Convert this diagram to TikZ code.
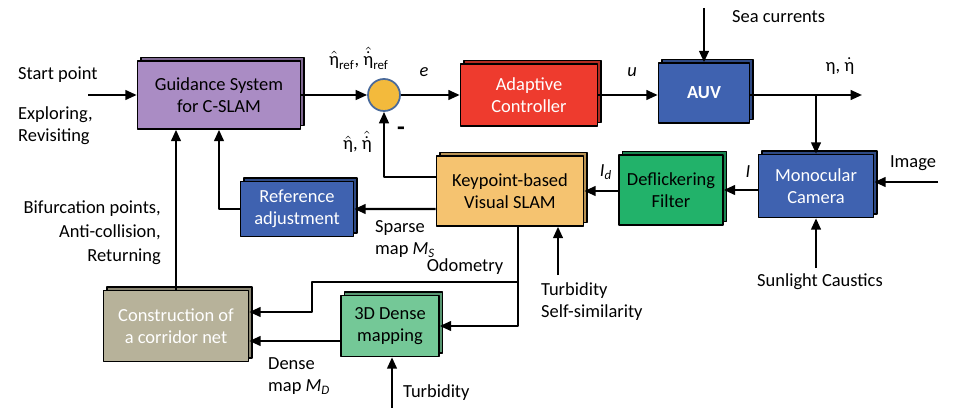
\documentclass[tikz,border=0pt]{standalone}
\usepackage{fontspec}
\setmainfont{Carlito}
\usepackage{amsmath}
\usetikzlibrary{arrows.meta,shadows,positioning}
\definecolor{purp}{RGB}{170,140,196}
\definecolor{ctrlred}{RGB}{238,59,46}
\definecolor{auvblue}{RGB}{63,98,176}
\definecolor{filtgreen}{RGB}{34,178,106}
\definecolor{slamorange}{RGB}{245,195,112}
\definecolor{khaki}{RGB}{183,178,154}
\definecolor{densegreen}{RGB}{116,200,151}
\definecolor{sumgold}{RGB}{243,186,60}
\definecolor{sumedge}{RGB}{74,106,154}
\newcommand{\etat}{\text{η}}
\tikzset{
  blk/.style={draw=black,line width=0.9pt,fill=#1,align=center,inner sep=2pt,
    copy shadow={shadow xshift=0.07cm,shadow yshift=0.07cm,fill=#1!75!black,draw=black,line width=0.6pt}},
  arr/.style={->,line width=1.3pt},
}
\begin{document}
\begin{tikzpicture}[x=0.02cm,y=-0.02cm,>={Triangle[length=6.5pt,width=5.5pt]},font=\fontsize{10.5}{12.6}\selectfont,line join=round]
	\useasboundingbox (0,0) rectangle (962,408);
	% blocks
	\node[blk=purp,minimum width=3.26cm,minimum height=1.36cm] (guid) at (219,95) {Guidance System\\for C-SLAM};
	\node[circle,draw=sumedge,fill=sumgold,line width=1pt,minimum size=0.64cm,inner sep=0pt] (sum) at (384,95) {};
	\node[blk=ctrlred,text=white,minimum width=2.74cm,minimum height=1.24cm] (ctrl) at (529,95) {Adaptive\\Controller};
	\node[blk=auvblue,text=white,font=\fontsize{10.5}{12.6}\selectfont\bfseries,minimum width=1.82cm,minimum height=1.2cm] (auv) at (704,93) {AUV};
	\node[blk=auvblue,text=white,minimum width=2.3cm,minimum height=1.26cm] (cam) at (816,186) {Monocular\\Camera};
	\node[blk=filtgreen,minimum width=2.08cm,minimum height=1.4cm] (defl) at (671,190) {Deflickering\\Filter};
	\node[blk=slamorange,minimum width=2.94cm,minimum height=1.4cm] (slam) at (510,191) {Keypoint-based\\Visual SLAM};
	\node[blk=auvblue,text=white,minimum width=2.26cm,minimum height=1.1cm] (ref) at (297,209) {Reference\\adjustment};
	\node[blk=khaki,text=white,minimum width=2.9cm,minimum height=1.42cm] (corr) at (176,326) {Construction of\\a corridor net};
	\node[blk=densegreen,minimum width=1.96cm,minimum height=1.22cm] (dense) at (390,326) {3D Dense\\mapping};
	% free ends
	\coordinate (start) at (88,95);
	\coordinate (sea) at (704,8);
	\coordinate (out) at (862,95);
	\coordinate (br) at (816,95);
	\coordinate (img) at (938,182);
	\coordinate (sun) at (816,268);
	\coordinate (turbA) at (558,275);
	\coordinate (turbB) at (392,410);
	\coordinate (odo) at (518,282);
	\coordinate (odoL) at (312,282);
	% connectors
	\draw[arr] (start) -- (guid.west);
	\draw[arr] (guid.east |- sum) -- (sum.west);
	\draw[arr] (sum.east) -- (ctrl.west);
	\draw[arr] (ctrl.east) -- (auv.west |- ctrl.east);
	\draw[arr] (sea) -- (auv.north);
	\draw[arr] (auv.east |- out) -- (out);
	\draw[arr] (br) -- (cam.north);
	\draw[arr] (img) -- (cam.east |- img);
	\draw[arr] (sun) -- (cam.south);
	\draw[arr] (cam.west |- defl.east) -- (defl.east);
	\draw[arr] (defl.west |- slam.east) -- (slam.east);
	\draw[arr] ([yshift=0.28cm]slam.west) -| (sum.south);
	\draw[arr] (turbA) -- (turbA |- slam.south);
	\draw[arr] ([yshift=-0.36cm]slam.west) -- (ref.east);
	\draw[arr] (ref.west) -- ++(-19,0) -| (guid.south);
	\draw[arr] (corr.north) -- (corr.north |- guid.south);
	\draw[arr] (odo |- slam.south) |- (dense.east);
	\draw[arr] (odo) -- (odoL) |- ([yshift=0.28cm]corr.east);
	\draw[arr] ([yshift=-0.3cm]dense.west) -- ([yshift=-0.3cm]corr.east);
	\draw[arr] (turbB) -- (turbB |- dense.south);
	% labels
	\node[anchor=west] (lstart) at (12,75) {Start point};
	\node[anchor=north west,align=left] (lexp) at (12,100) {Exploring,\\Revisiting};
	\node (lref) at (359,58) {$\hat{\etat}_{\text{ref}}$, $\hat{\dot{\etat}}_{\text{ref}}$};
	\node (le) at (424,72) {\textit{e}};
	\node (lu) at (632,72) {\textit{u}};
	\node[anchor=west] (lsea) at (726,17) {Sea currents};
	\node (leta) at (840,66) {η, $\dot{\etat}$};
	\node (limg) at (913,163) {Image};
	\node (lI) at (748,172) {\textit{I}};
	\node (lId) at (606,172) {\textit{I}\textsubscript{\textit{d}}};
	\node (lsun) at (820,282) {Sunlight Caustics};
	\node[anchor=north west,align=left] (lturbA) at (535,276) {Turbidity\\Self-similarity};
	\node (lodo) at (465,267) {Odometry};
	\node[anchor=north west,align=left] (lsparse) at (369,214) {Sparse\\map \textit{M}\textsubscript{\textit{S}}};
	\node[anchor=north west,align=left] (ldense) at (262,351) {Dense\\map \textit{M}\textsubscript{\textit{D}}};
	\node[anchor=north east,align=right,font=\fontsize{10.5}{13.5}\selectfont] (lbif) at (167,195) {Bifurcation points,\\Anti-collision,\\Returning};
	\node[anchor=east] (lfb) at (378,142) {$\hat{\etat}$, $\hat{\dot{\etat}}$};
	\node[font=\Large\bfseries,inner sep=0pt] (lminus) at (401,131) {-};
	\node[anchor=west] (lturbB) at (397,393) {Turbidity};
\end{tikzpicture}
\end{document}
